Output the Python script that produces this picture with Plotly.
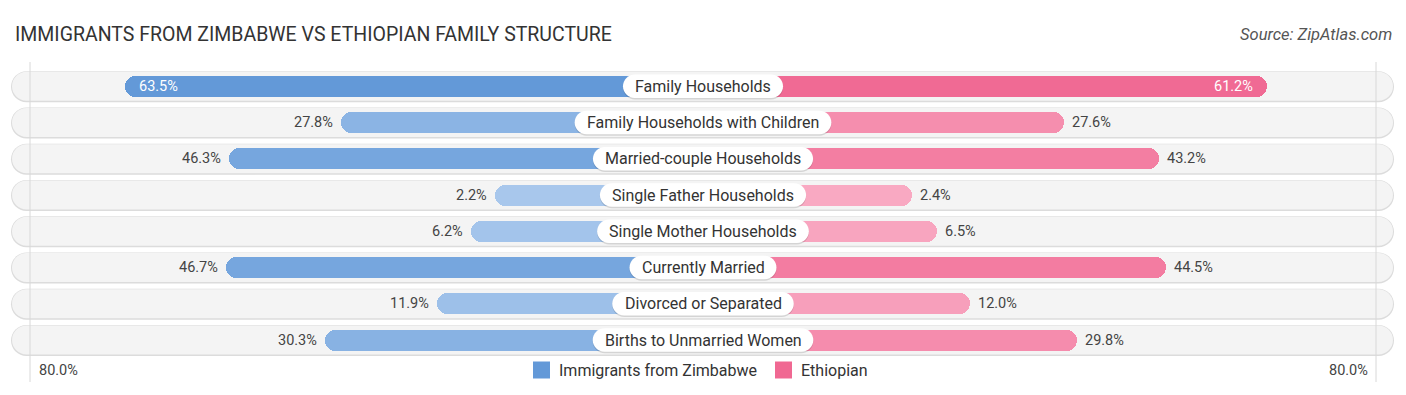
import plotly.graph_objects as go

# ---------------- data ----------------
categories = [
    "Family Households",
    "Family Households with Children",
    "Married-couple Households",
    "Single Father Households",
    "Single Mother Households",
    "Currently Married",
    "Divorced or Separated",
    "Births to Unmarried Women",
]
zimbabwe = [63.5, 27.8, 46.3, 2.2, 6.2, 46.7, 11.9, 30.3]
ethiopian = [61.2, 27.6, 43.2, 2.4, 6.5, 44.5, 12.0, 29.8]
series_names = ["Immigrants from Zimbabwe", "Ethiopian"]
axis_label = "80.0%"

# ---------------- layout constants ----------------
W, H = 1406, 395
CX = 703.0            # centre pixel
PX = 6.05             # px per percentage point
OFFSET = 32.1         # bar start offset (in % units) hidden behind labels
ROW0 = 86.3           # px of first row centre
ROWH = 36.25          # px per row
FONT = "Roboto"

x_lo = -CX / PX
x_hi = (W - CX) / PX
y_hi = ROW0 / ROWH
y_lo = y_hi - H / ROWH

ys = [-i for i in range(len(categories))]


def mix(c1, c2, t):
    return "#%02x%02x%02x" % tuple(round(a + (b - a) * t) for a, b in zip(c1, c2))


blue_light, blue_dark = (170, 201, 237), (99, 153, 216)
pink_light, pink_dark = (249, 172, 196), (240, 104, 146)
vmax = max(max(zimbabwe), max(ethiopian))
blue_cols = [mix(blue_light, blue_dark, v / vmax) for v in zimbabwe]
pink_cols = [mix(pink_light, pink_dark, v / vmax) for v in ethiopian]

fig = go.Figure()
bar_w = 21 / ROWH
fig.add_trace(go.Bar(
    y=ys, x=[-(OFFSET + v) for v in zimbabwe], base=0, orientation="h",
    width=bar_w, marker=dict(color=blue_cols, cornerradius="50%", line=dict(width=0)),
    showlegend=False, hoverinfo="skip", name=series_names[0]))
fig.add_trace(go.Bar(
    y=ys, x=[(OFFSET + v) for v in ethiopian], base=0, orientation="h",
    width=bar_w, marker=dict(color=pink_cols, cornerradius="50%", line=dict(width=0)),
    showlegend=False, hoverinfo="skip", name=series_names[1]))

# ---------------- helpers ----------------
K = 0.5523


def pill_path(x0px, x1px, yc, hpx, dy_px=0.0):
    """rounded pill; x in paper units, y in data units"""
    x0, x1 = x0px / W, x1px / W
    rx = hpx / W
    hy = hpx / ROWH
    yc = yc - dy_px / ROWH
    top, bot = yc + hy, yc - hy
    return (
        f"M {x0+rx},{top} L {x1-rx},{top} "
        f"C {x1-rx+K*rx},{top} {x1},{yc+K*hy} {x1},{yc} "
        f"C {x1},{yc-K*hy} {x1-rx+K*rx},{bot} {x1-rx},{bot} "
        f"L {x0+rx},{bot} "
        f"C {x0+rx-K*rx},{bot} {x0},{yc-K*hy} {x0},{yc} "
        f"C {x0},{yc+K*hy} {x0+rx-K*rx},{top} {x0+rx},{top} Z"
    )


ROBOTO = {
    'a': .544, 'b': .561, 'c': .523, 'd': .564, 'e': .530, 'f': .347, 'g': .561,
    'h': .551, 'i': .243, 'l': .243, 'm': .876, 'n': .552, 'o': .570, 'p': .561,
    'r': .339, 's': .516, 't': .327, 'u': .551, 'v': .484, 'w': .751, 'y': .473,
    ' ': .248, '-': .276, 'F': .553, 'H': .713, 'M': .873, 'S': .593, 'C': .652,
    'D': .655, 'B': .622, 'U': .648, 'W': .887,
}


def text_w(s, size):
    return sum(ROBOTO.get(ch, .55) for ch in s) * size


shapes = []
# background row pills
for y in ys:
    shapes.append(dict(type="path", xref="paper", yref="y", layer="below",
                       path=pill_path(11, 1394, y, 15.5, dy_px=0.5),
                       fillcolor="#dcdcdc", line=dict(width=0)))
    shapes.append(dict(type="path", xref="paper", yref="y", layer="below",
                       path=pill_path(12, 1393, y, 14.5, dy_px=0.0),
                       fillcolor="#f4f4f4", line=dict(width=0)))

# faint vertical guide lines
for xp in (30, 1376):
    shapes.append(dict(type="line", xref="paper", yref="paper", layer="below",
                       x0=xp / W, x1=xp / W, y0=1 - 62 / H, y1=1 - 382 / H,
                       line=dict(color="#d8d8d8", width=1)))

annotations = []
LABEL_SIZE = 16
for y, cat in zip(ys, categories):
    w = text_w(cat, LABEL_SIZE) + 24
    shapes.append(dict(type="path", xref="paper", yref="y", layer="above",
                       path=pill_path(CX - w / 2, CX + w / 2, y, 12, dy_px=1.2),
                       fillcolor="rgba(0,0,0,0.13)", line=dict(width=0)))
    shapes.append(dict(type="path", xref="paper", yref="y", layer="above",
                       path=pill_path(CX - w / 2, CX + w / 2, y, 11.8),
                       fillcolor="#ffffff", line=dict(width=0)))
    annotations.append(dict(x=0, y=y, xref="x", yref="y", text=cat, showarrow=False,
                            font=dict(family=FONT, size=LABEL_SIZE, color="#333333"),
                            xanchor="center", yanchor="middle"))

VAL_SIZE = 14.5
for y, v in zip(ys, zimbabwe):
    inside = v >= 60
    annotations.append(dict(
        x=-(OFFSET + v), y=y, xref="x", yref="y", text=f"{v:.1f}%", showarrow=False,
        xanchor="left" if inside else "right", xshift=12 if inside else -6,
        yanchor="middle",
        font=dict(family=FONT, size=VAL_SIZE, color="#ffffff" if inside else "#444444")))
for y, v in zip(ys, ethiopian):
    inside = v >= 60
    annotations.append(dict(
        x=(OFFSET + v), y=y, xref="x", yref="y", text=f"{v:.1f}%", showarrow=False,
        xanchor="right" if inside else "left", xshift=-12 if inside else 6,
        yanchor="middle",
        font=dict(family=FONT, size=VAL_SIZE, color="#ffffff" if inside else "#444444")))

# title and source
annotations.append(dict(x=13 / W, y=1 - 34 / H, xref="paper", yref="paper",
                        text="IMMIGRANTS FROM ZIMBABWE VS ETHIOPIAN FAMILY STRUCTURE",
                        showarrow=False, xanchor="left", yanchor="middle",
                        font=dict(family=FONT, size=19.5, color="#333333")))
annotations.append(dict(x=1394 / W, y=1 - 34 / H, xref="paper", yref="paper",
                        text="Source: ZipAtlas.com", showarrow=False,
                        xanchor="right", yanchor="middle",
                        font=dict(family=FONT, size=16.5, color="#555555", style="italic")))

# bottom axis labels
annotations.append(dict(x=37 / W, y=1 - 370 / H, xref="paper", yref="paper", text=axis_label,
                        showarrow=False, xanchor="left", yanchor="middle",
                        font=dict(family=FONT, size=14.5, color="#444444")))
annotations.append(dict(x=1370 / W, y=1 - 370 / H, xref="paper", yref="paper", text=axis_label,
                        showarrow=False, xanchor="right", yanchor="middle",
                        font=dict(family=FONT, size=14.5, color="#444444")))

# legend (manual)
leg_items = [(533, blue_dark, series_names[0]), (775, pink_dark, series_names[1])]
for xpx, col, name in leg_items:
    shapes.append(dict(type="rect", xref="paper", yref="paper", layer="above",
                       x0=xpx / W, x1=(xpx + 17) / W, y0=1 - 378.5 / H, y1=1 - 361.5 / H,
                       fillcolor="#%02x%02x%02x" % col, line=dict(width=0)))
    annotations.append(dict(x=(xpx + 24) / W, y=1 - 370 / H, xref="paper", yref="paper",
                            text=name, showarrow=False, xanchor="left", yanchor="middle",
                            font=dict(family=FONT, size=16, color="#333333")))

fig.update_layout(
    width=W, height=H, autosize=False,
    margin=dict(l=0, r=0, t=0, b=0, pad=0),
    paper_bgcolor="#ffffff", plot_bgcolor="rgba(0,0,0,0)",
    barmode="overlay", bargap=0,
    xaxis=dict(range=[x_lo, x_hi], visible=False, fixedrange=True),
    yaxis=dict(range=[y_lo, y_hi], visible=False, fixedrange=True),
    shapes=shapes, annotations=annotations, showlegend=False,
)

fig.write_html(
    "out.html",
    config={"displayModeBar": False},
    post_script="document.body.style.margin='0';document.body.style.overflow='hidden';",
)
